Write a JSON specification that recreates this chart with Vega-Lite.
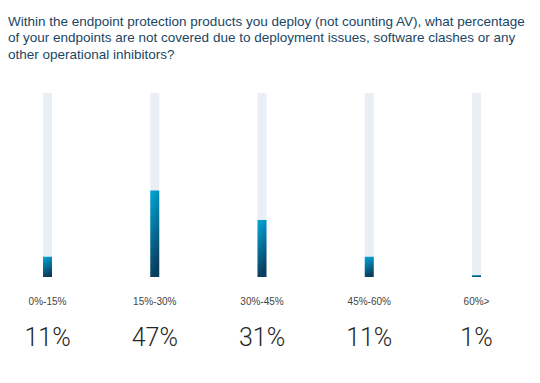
{
  "$schema": "https://vega.github.io/schema/vega-lite/v6.json",
  "padding": {"left": 0, "right": 16, "top": 14, "bottom": 10},
  "background": "#ffffff",
  "title": {
    "text": [
      "Within the endpoint protection products you deploy (not counting AV), what percentage",
      "of your endpoints are not covered due to deployment issues, software clashes or any",
      "other operational inhibitors?"
    ],
    "anchor": "start",
    "dx": 8,
    "font": "Liberation Sans",
    "fontSize": 13.5,
    "fontWeight": "normal",
    "color": "#1a4664",
    "lineHeight": 16.5,
    "offset": 32
  },
  "datasets": {
    "d": [
      {"range": "0%-15%", "pct": 11, "label": "11%"},
      {"range": "15%-30%", "pct": 47, "label": "47%"},
      {"range": "30%-45%", "pct": 31, "label": "31%"},
      {"range": "45%-60%", "pct": 11, "label": "11%"},
      {"range": "60%>", "pct": 1, "label": "1%"}
    ]
  },
  "data": {"name": "d"},
  "spacing": 0,
  "vconcat": [
    {
      "width": 524,
      "height": 184,
      "layer": [
        {
          "mark": {"type": "bar", "size": 9, "fill": "#e9eff4"},
          "encoding": {
            "x": {"field": "range", "type": "nominal", "sort": null, "scale": {"type": "point", "padding": 0.443, "align": 0.5}, "axis": null},
            "y": {"datum": 100, "type": "quantitative", "scale": {"domain": [0, 100]}, "axis": null}
          }
        },
        {
          "mark": {
            "type": "bar",
            "size": 9,
            "fill": {
              "gradient": "linear",
              "x1": 0, "y1": 0, "x2": 0.25, "y2": 1,
              "stops": [
                {"offset": 0, "color": "#00a9dc"},
                {"offset": 1, "color": "#0b3e5e"}
              ]
            }
          },
          "encoding": {
            "x": {"field": "range", "type": "nominal", "sort": null, "scale": {"type": "point", "padding": 0.443, "align": 0.5}, "axis": null},
            "y": {"field": "pct", "type": "quantitative", "scale": {"domain": [0, 100]}, "axis": null}
          }
        }
      ]
    },
    {
      "width": 524,
      "height": 49,
      "mark": {"type": "text", "font": "Liberation Sans", "fontSize": 10, "color": "#444444", "baseline": "middle"},
      "encoding": {
        "x": {"field": "range", "type": "nominal", "sort": null, "scale": {"type": "point", "padding": 0.443, "align": 0.5}, "axis": null},
        "text": {"field": "range", "type": "nominal"}
      }
    },
    {
      "width": 524,
      "height": 4,
      "mark": {"type": "text", "font": "Roboto", "fontWeight": 300, "fontSize": 25, "color": "#262626", "baseline": "middle", "dy": -3},
      "encoding": {
        "x": {"field": "range", "type": "nominal", "sort": null, "scale": {"type": "point", "padding": 0.443, "align": 0.5}, "axis": null},
        "text": {"field": "label", "type": "nominal"}
      }
    }
  ],
  "config": {
    "view": {"stroke": null},
    "concat": {"spacing": 0}
  }
}
